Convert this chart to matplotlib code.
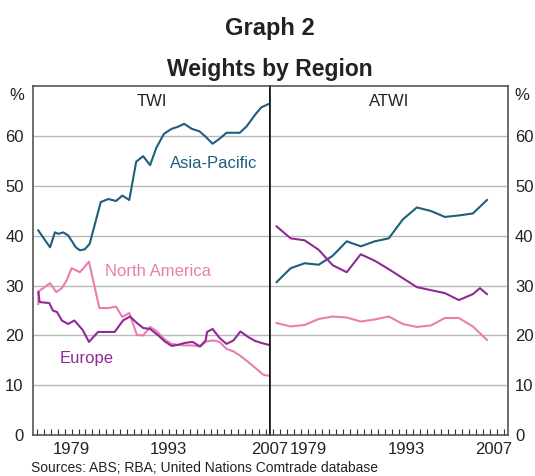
import matplotlib
matplotlib.use('Agg')
import matplotlib.pyplot as plt
from matplotlib.ticker import MultipleLocator
from matplotlib.transforms import ScaledTranslation

plt.rcParams['font.family'] = ['Liberation Sans', 'DejaVu Sans']

# TWI weights (left panel)
twi_asia_x = [1974.2, 1975.9, 1976.6, 1977.1, 1977.8, 1978.5, 1979.2, 1979.6, 1980.2,
              1980.9, 1981.6, 1983.2, 1984.3, 1985.4, 1986.3, 1987.3, 1988.3, 1989.3,
              1990.3, 1991.2, 1992.3, 1993.4, 1994.3, 1995.2, 1996.3, 1997.4, 1998.3,
              1999.3, 2000.3, 2001.3, 2002.3, 2003.2, 2004.2, 2005.4, 2006.3, 2007.4]
twi_asia = [41.1, 37.7, 40.7, 40.4, 40.7, 40.1, 38.6, 37.7, 37.1,
            37.3, 38.4, 46.8, 47.4, 47.0, 48.1, 47.2, 54.9, 56.0,
            54.2, 57.7, 60.5, 61.5, 61.9, 62.5, 61.5, 61.0, 59.9,
            58.5, 59.5, 60.7, 60.7, 60.7, 62.0, 64.3, 65.8, 66.5]

twi_na_x = [1974.2, 1974.3, 1975.9, 1976.8, 1977.6, 1978.3, 1979.0, 1980.2, 1981.5,
            1983.0, 1984.3, 1985.4, 1986.3, 1987.3, 1988.4, 1989.3, 1990.3, 1991.2,
            1992.4, 1993.4, 1994.3, 1995.3, 1996.3, 1997.5, 1998.4, 1999.4, 2000.3,
            2001.3, 2002.3, 2003.2, 2004.4, 2005.6, 2006.6, 2007.4]
twi_na = [26.3, 28.9, 30.5, 28.7, 29.5, 31.1, 33.5, 32.7, 34.8,
          25.5, 25.5, 25.8, 23.7, 24.5, 20.1, 20.0, 21.7, 20.9,
          19.2, 18.3, 18.1, 18.0, 18.0, 17.8, 18.8, 19.0, 18.7,
          17.3, 16.8, 16.0, 14.7, 13.3, 12.1, 11.9]

twi_eu_x = [1974.2, 1974.4, 1975.8, 1976.3, 1976.9, 1977.6, 1978.5, 1979.4, 1980.6,
            1981.5, 1982.8, 1984.0, 1985.2, 1986.4, 1987.4, 1988.4, 1989.3, 1990.3,
            1991.4, 1992.4, 1993.4, 1994.3, 1995.3, 1996.4, 1997.5, 1998.3, 1998.5,
            1999.3, 2000.3, 2001.3, 2002.3, 2003.3, 2004.4, 2005.4, 2006.3, 2007.4]
twi_eu = [28.7, 26.7, 26.5, 25.0, 24.7, 23.0, 22.3, 23.0, 21.1,
          18.7, 20.7, 20.7, 20.7, 23.0, 23.8, 22.5, 21.5, 21.3,
          20.1, 18.8, 17.9, 18.1, 18.5, 18.7, 17.8, 19.0, 20.7,
          21.3, 19.5, 18.3, 19.0, 20.8, 19.7, 18.9, 18.5, 18.1]

# ATWI weights (right panel)
atwi_x = [1974.5, 1976.5, 1978.5, 1980.5, 1982.5, 1984.5, 1986.5, 1988.5,
          1990.5, 1992.5, 1994.5, 1996.5, 1998.5, 2000.5, 2002.5, 2004.5]
atwi_asia = [30.7, 33.5, 34.5, 34.2, 36.0, 38.9, 37.9, 38.9,
             39.5, 43.3, 45.7, 45.0, 43.8, 44.1, 44.5, 47.2]
atwi_na = [22.5, 21.8, 22.1, 23.3, 23.8, 23.6, 22.8, 23.2,
           23.8, 22.3, 21.7, 22.0, 23.5, 23.5, 21.8, 19.1]
atwi_eu_x = [1974.5, 1976.5, 1978.5, 1980.5, 1982.5, 1984.5, 1986.5, 1988.5,
             1990.5, 1992.5, 1994.5, 1996.5, 1998.5, 2000.5, 2002.5, 2003.5, 2004.5]
atwi_eu = [41.9, 39.5, 39.1, 37.2, 34.1, 32.7, 36.3, 35.0,
           33.3, 31.5, 29.7, 29.1, 28.5, 27.1, 28.3, 29.5, 28.3]

year_labels = [1979, 1993, 2007]
y_ticks = [0, 10, 20, 30, 40, 50, 60]

c_asia = '#1d5f7c'
c_na = '#ea7db0'
c_eu = '#8e2a98'
c_grid = '#b8b8b8'

fig = plt.figure(figsize=(5.35, 4.76), dpi=100)
ax1 = fig.add_axes([0.0624, 0.0861, 0.4415, 0.7322])
ax2 = fig.add_axes([0.5039, 0.0861, 0.4456, 0.7322])

ax1.plot(twi_asia_x, twi_asia, color=c_asia, lw=1.5)
ax1.plot(twi_na_x, twi_na, color=c_na, lw=1.5)
ax1.plot(twi_eu_x, twi_eu, color=c_eu, lw=1.5)

ax2.plot(atwi_x, atwi_asia, color=c_asia, lw=1.5)
ax2.plot(atwi_x, atwi_na, color=c_na, lw=1.5)
ax2.plot(atwi_eu_x, atwi_eu, color=c_eu, lw=1.5)

for ax in (ax1, ax2):
    ax.set_xlim(1973.5, 2007.5)
    ax.set_ylim(0, 70)
    ax.set_yticks(y_ticks)
    for v in y_ticks[1:]:
        ax.axhline(v, color=c_grid, lw=1, zorder=0)
    ax.set_xticks(year_labels)
    ax.set_xticklabels([str(y) for y in year_labels])
    ax.xaxis.set_minor_locator(MultipleLocator(1))
    ax.tick_params(axis='x', which='both', direction='in', length=4, width=0.8,
                   colors='#333333', labelcolor='#222222', labelsize=12, pad=5)
    ax.tick_params(axis='y', length=0, labelsize=12, labelcolor='#222222')
    for s in ax.spines.values():
        s.set_color('#555555')
        s.set_linewidth(1.2)

ax1.tick_params(axis='y', pad=7)
ax1.spines['right'].set_color('#111111')
ax2.spines['left'].set_color('#111111')
ax2.yaxis.tick_right()
ax2.tick_params(axis='y', pad=5)

# nudge the edge year labels like the original
shift_l = ScaledTranslation(0.035, 0, fig.dpi_scale_trans)
shift_r = ScaledTranslation(-0.11, 0, fig.dpi_scale_trans)
lab1 = ax1.get_xticklabels()[-1]
lab1.set_transform(lab1.get_transform() + shift_l)
lab2 = ax2.get_xticklabels()[-1]
lab2.set_transform(lab2.get_transform() + shift_r)

ax1.text(0.5, 0.957, 'TWI', transform=ax1.transAxes, ha='center', va='center',
         fontsize=12, color='#222222')
ax2.text(0.5, 0.957, 'ATWI', transform=ax2.transAxes, ha='center', va='center',
         fontsize=12, color='#222222')

ax1.text(1999.5, 54.5, 'Asia-Pacific', color=c_asia, fontsize=12, ha='center', va='center')
ax1.text(1991.4, 32.8, 'North America', color=c_na, fontsize=12, ha='center', va='center')
ax1.text(1981.2, 15.4, 'Europe', color=c_eu, fontsize=12, ha='center', va='center')

fig.text(0.5047, 0.941, 'Graph 2', ha='center', va='center', fontsize=17,
         fontweight='bold', color='#222222')
fig.text(0.5047, 0.855, 'Weights by Region', ha='center', va='center', fontsize=16.5,
         fontweight='bold', color='#222222')
fig.text(0.031, 0.799, '%', ha='center', va='center', fontsize=12, color='#222222')
fig.text(0.976, 0.799, '%', ha='center', va='center', fontsize=12, color='#222222')
fig.text(0.058, 0.016, 'Sources: ABS; RBA; United Nations Comtrade database',
         ha='left', va='center', fontsize=10, color='#222222')

fig.savefig('out.png', dpi=100)
